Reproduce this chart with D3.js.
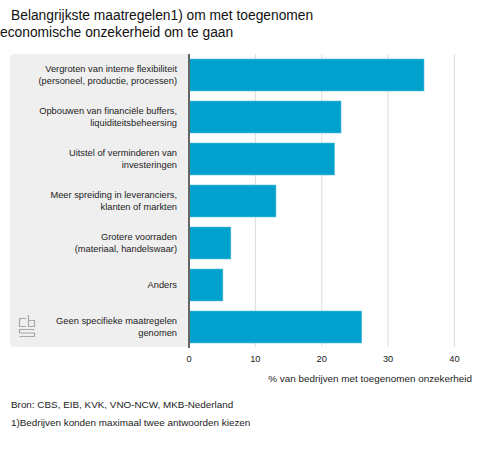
<!DOCTYPE html>
<html>
<head>
<meta charset="utf-8">
<script src="https://cdn.jsdelivr.net/npm/d3@7"></script>
<style>
  body { margin: 0; background: #fff; }
  text { font-family: Arial, "Liberation Sans", sans-serif; }
</style>
</head>
<body>
<div id="chart"></div>
<script>
// Maatregelen (two-line labels) and share of firms in %
const categories = [
    ["Vergroten van interne flexibiliteit", "(personeel, productie, processen)"],
    ["Opbouwen van financiële buffers,", "liquiditeitsbeheersing"],
    ["Uitstel of verminderen van", "investeringen"],
    ["Meer spreiding in leveranciers,", "klanten of markten"],
    ["Grotere voorraden", "(materiaal, handelswaar)"],
    ["Anders"],
    ["Geen specifieke maatregelen", "genomen"]
];
const values = [35.4, 22.9, 21.9, 13.1, 6.3, 5.1, 26.0];
const ticks = [0, 10, 20, 30, 40];

const width = 491, height = 450;
const margin = { top: 54, left: 189, right: 37, bottom: 103 };

const svg = d3.select("#chart")
    .append("svg")
    .attr("width", width)
    .attr("height", height);

const x = d3.scaleLinear()
    .domain([0, 40])
    .range([margin.left, 454.5]);

const y = d3.scaleBand()
    .domain(d3.range(categories.length))
    .range([margin.top, height - margin.bottom + 1])
    .paddingInner(0.24)
    .paddingOuter(0.12);

// Title
svg.append("text")
    .attr("x", 11)
    .attr("y", 20)
    .style("font-size", "13.8px")
    .style("fill", "#111")
    .text("Belangrijkste maatregelen1) om met toegenomen");
svg.append("text")
    .attr("x", 0)
    .attr("y", 37)
    .style("font-size", "13.8px")
    .style("fill", "#111")
    .text("economische onzekerheid om te gaan");

// Grey label panel
svg.append("path")
    .attr("d", `M${margin.left},${margin.top} H14 Q10,${margin.top} 10,${margin.top + 4}
                V${height - margin.bottom - 4} Q10,${height - margin.bottom} 14,${height - margin.bottom} H${margin.left} Z`)
    .attr("fill", "#efefef");

// Gridlines
svg.append("g")
    .selectAll("line")
    .data(ticks.slice(1))
    .enter().append("line")
    .attr("x1", d => x(d))
    .attr("x2", d => x(d))
    .attr("y1", margin.top)
    .attr("y2", height - margin.bottom)
    .attr("stroke", "#dcdcdc")
    .attr("stroke-width", 1);

// Bars
svg.append("g")
    .selectAll("rect")
    .data(values)
    .enter().append("rect")
    .attr("x", x(0))
    .attr("y", (d, i) => y(i))
    .attr("width", d => x(d) - x(0))
    .attr("height", y.bandwidth())
    .attr("fill", "#00a1cd")
    .attr("stroke", "#4ab8da")
    .attr("stroke-width", 0.6);

// Category labels
const lineH = 11.7;
svg.append("g")
    .selectAll("text")
    .data(categories)
    .enter().append("text")
    .attr("text-anchor", "end")
    .style("font-size", "9.3px")
    .style("fill", "#222")
    .each(function(lines, i) {
        const cy = y(i) + y.bandwidth() / 2;
        const y0 = cy - (lines.length - 1) * lineH / 2 + 3.3;
        d3.select(this).selectAll("tspan")
            .data(lines)
            .enter().append("tspan")
            .attr("x", 177)
            .attr("y", (d, j) => y0 + j * lineH)
            .text(d => d);
    });

// Axis line
svg.append("line")
    .attr("x1", x(0))
    .attr("x2", x(0))
    .attr("y1", margin.top)
    .attr("y2", height - margin.bottom + 1)
    .attr("stroke", "#666")
    .attr("stroke-width", 2);

// X-axis tick labels
svg.append("g")
    .selectAll("text")
    .data(ticks)
    .enter().append("text")
    .attr("x", d => x(d))
    .attr("y", 362)
    .attr("text-anchor", "middle")
    .style("font-size", "9.3px")
    .style("fill", "#222")
    .text(d => d);

// X-axis label
svg.append("text")
    .attr("x", 472)
    .attr("y", 382)
    .attr("text-anchor", "end")
    .style("font-size", "9.9px")
    .style("fill", "#222")
    .text("% van bedrijven met toegenomen onzekerheid");

// CBS logo (c, b, s)
svg.append("path")
    .attr("d", "M26,318.5 H19.5 V326.5 H26 M28.5,315 V326.5 H34.5 V320.5 H28.5 M34.5,329.5 H19.5 V333 H34.5 V336.5 H19.5")
    .attr("fill", "none")
    .attr("stroke", "#a8a8a8")
    .attr("stroke-width", 1.2);

// Source and footnote
svg.append("text")
    .attr("x", 11)
    .attr("y", 408)
    .style("font-size", "9.9px")
    .style("fill", "#222")
    .text("Bron: CBS, EIB, KVK, VNO-NCW, MKB-Nederland");
svg.append("text")
    .attr("x", 11)
    .attr("y", 426)
    .style("font-size", "9.9px")
    .style("fill", "#222")
    .text("1)Bedrijven konden maximaal twee antwoorden kiezen");
</script>
</body>
</html>
